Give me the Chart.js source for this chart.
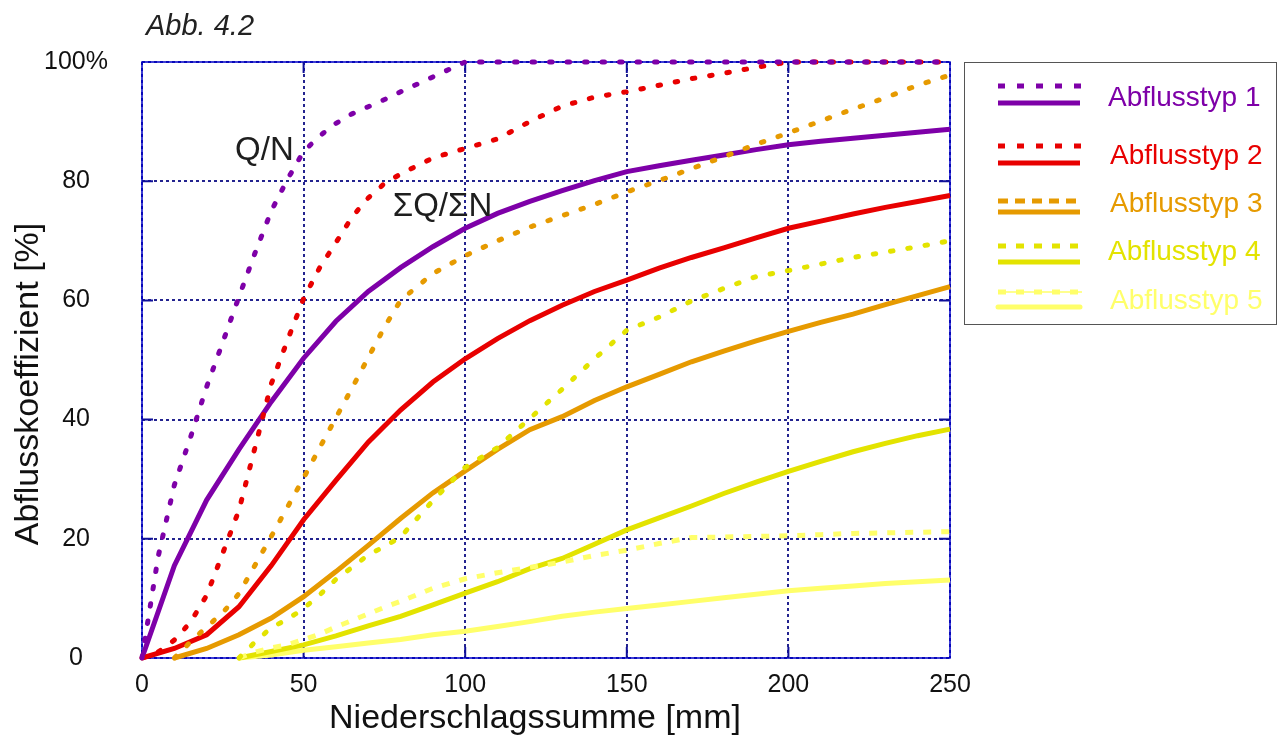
<!DOCTYPE html>
<html lang="de">
<head>
<meta charset="utf-8">
<title>Abb. 4.2 Abflusskoeffizient</title>
<script src="https://cdn.jsdelivr.net/npm/chart.js@4.4.1/dist/chart.umd.min.js"></script>
<style>
  html, body { margin: 0; padding: 0; background: #fff; }
  #wrap { width: 1282px; height: 745px; position: relative; }
</style>
</head>
<body>
<div id="wrap"><canvas id="graph"></canvas></div>
<script>
// Niederschlagssumme [mm] (gemeinsame Stuetzstellen)
const rain = [0, 5, 10, 15, 20, 25, 30, 35, 40, 45, 50, 55, 60, 65, 70, 75,
    80, 90, 100, 110, 120, 130, 140, 150, 160, 170, 180, 190, 200, 210, 220, 230, 240, 250];

// Q/N [%] je Abflusstyp (punktiert)
const qn1 = [0, 17, 29, 37, 45.5, 53, 60.6, 68, 75, 80.3, 85, 87.6, 89.7, 91.3, 92.5, 93.7,
    95, 97.5, 100, 100, 100, 100, 100, 100, 100, 100, 100, 100, 100, 100, 100, 100, 100, 100];
const qn2 = [0, 1, 3, 6, 10.5, 17.6, 24.8, 35.4, 46, 53.3, 60.3, 65.5, 69.7, 74, 77.2, 79.6,
    81.2, 83.9, 85.5, 87.1, 90, 92.6, 94.1, 95, 96.1, 97.2, 98.1, 99.1, 100, 100, 100, 100, 100, 100];
const qn3 = [null, null, 0, 2.7, 5.2, 7.6, 10.8, 15.6, 20.4, 25.3, 30.2, 35.3, 40.3, 45.3, 50.4, 55.5,
    60, 64.5, 67.5, 70, 72.3, 74.2, 76.1, 78.2, 80.1, 82.1, 84.1, 86.2, 88.1, 90.1, 92.1, 94, 96.1, 97.8];
const qn4 = [null, null, null, null, null, null, 0, 2.7, 5.1, 6.5, 8.3, 10.6, 13.2, 15.2, 17.3, 18.7,
    20.3, 26.4, 32, 35.3, 40.2, 45.1, 50.2, 55, 57.2, 59.9, 62, 64, 65, 66.1, 67.2, 68.1, 69, 70];
const qn5 = [null, null, null, null, null, null, 0, 1, 1.7, 2.2, 3.1, 4, 5.2, 6.3, 7.4, 8.5,
    9.5, 11.7, 13.3, 14.3, 15.2, 16.1, 17.2, 18.1, 19.2, 20.2, 20.3, 20.4, 20.5, 20.7, 20.9, 21, 21.1, 21.2];

// Summe Q / Summe N [%] je Abflusstyp (durchgezogen)
const sq1 = [0, null, 15.5, null, 26.5, null, 35, null, 43, null, 50.3, null, 56.5, null, 61.5, null,
    65.5, 69, 72.1, 74.6, 76.6, 78.4, 80.1, 81.6, 82.6, 83.5, 84.4, 85.3, 86.1, 86.7, 87.2, 87.7, 88.2, 88.7];
const sq2 = [0, null, 1.6, null, 3.9, null, 8.6, null, 15.5, null, 23.2, null, 29.8, null, 36.2, null,
    41.6, 46.3, 50.2, 53.6, 56.6, 59.2, 61.5, 63.4, 65.4, 67.2, 68.8, 70.5, 72.1, 73.3, 74.5, 75.6, 76.6, 77.6];
const sq3 = [null, null, 0, null, 1.6, null, 3.9, null, 6.7, null, 10.3, null, 14.5, null, 18.9, null,
    23.4, 27.7, 31.4, 35, 38.3, 40.5, 43.2, 45.5, 47.6, 49.7, 51.5, 53.2, 54.8, 56.3, 57.7, 59.3, 60.8, 62.3];
const sq4 = [null, null, null, null, null, null, 0, null, 1.1, null, 2.2, null, 3.7, null, 5.4, null,
    7, 8.9, 10.9, 12.8, 15, 16.7, 19.1, 21.5, 23.5, 25.5, 27.6, 29.5, 31.3, 33, 34.6, 36, 37.3, 38.4];
const sq5 = [null, null, null, null, null, null, 0, null, 0.5, null, 1.3, null, 1.9, null, 2.5, null,
    3.1, 3.9, 4.5, 5.3, 6.1, 7, 7.7, 8.3, 8.9, 9.5, 10.1, 10.7, 11.3, 11.7, 12.1, 12.5, 12.8, 13.1];

const typeNames = ['Abflusstyp 1', 'Abflusstyp 2', 'Abflusstyp 3', 'Abflusstyp 4', 'Abflusstyp 5'];
const typeColors = ['#7e00a8', '#e80000', '#e69a00', '#e3e300', '#ffff6a'];

const xTicks = [0, 50, 100, 150, 200, 250];
const yTicks = [0, 20, 40, 60, 80, 100];

// Beschriftungen im Diagramm (Datenkoordinaten, linke Grundlinie)
const notes = [
    { text: 'Q/N', x: 28.8, y: 83.6 },
    { text: '\u03a3Q/\u03a3N', x: 77.6, y: 74.1 }
];

const FONT = '"Liberation Sans", Arial, Helvetica, sans-serif';

function toPoints(ys) {
    return rain.map((x, i) => ({ x: x, y: ys[i] })).filter(p => p.y !== null);
}

const qnSeries = [qn1, qn2, qn3, qn4, qn5];
const sqSeries = [sq1, sq2, sq3, sq4, sq5];

const datasets = [];
qnSeries.forEach((ys, i) => {
    const light = i === 4;
    datasets.push({
        label: typeNames[i] + ' Q/N',
        data: toPoints(ys),
        borderColor: typeColors[i],
        borderWidth: 5,
        borderDash: light ? [8, 10] : [2.5, 15],
        borderCapStyle: light ? 'butt' : 'round',
        pointRadius: 0,
        tension: 0,
        clip: false
    });
});
sqSeries.forEach((ys, i) => {
    datasets.push({
        label: typeNames[i] + ' \u03a3Q/\u03a3N',
        data: toPoints(ys),
        borderColor: typeColors[i],
        borderWidth: 5,
        pointRadius: 0,
        tension: 0,
        spanGaps: true,
        clip: false
    });
});

// Rahmen, kurze Striche am Rand, Beschriftungen, Legende
const decorPlugin = {
    id: 'decor',
    beforeDatasetsDraw(chart) {
        const { ctx, chartArea: a, scales } = chart;
        ctx.save();
        ctx.strokeStyle = '#0000c8';
        ctx.lineWidth = 1.5;
        ctx.strokeRect(a.left, a.top, a.right - a.left, a.bottom - a.top);
        ctx.strokeStyle = '#10109a';
        ctx.lineWidth = 2;
        ctx.beginPath();
        yTicks.slice(1, -1).forEach(v => {
            const y = scales.y.getPixelForValue(v);
            ctx.moveTo(a.left, y); ctx.lineTo(a.left + 11, y);
            ctx.moveTo(a.right - 11, y); ctx.lineTo(a.right, y);
        });
        xTicks.slice(1, -1).forEach(v => {
            const x = scales.x.getPixelForValue(v);
            ctx.moveTo(x, a.bottom); ctx.lineTo(x, a.bottom - 11);
            ctx.moveTo(x, a.top); ctx.lineTo(x, a.top + 11);
        });
        ctx.stroke();
        ctx.restore();
    },
    afterDraw(chart) {
        const { ctx, scales } = chart;
        ctx.save();

        // Abbildungsnummer
        ctx.fillStyle = '#222';
        ctx.font = 'italic 29px ' + FONT;
        ctx.textAlign = 'left';
        ctx.textBaseline = 'alphabetic';
        ctx.fillText('Abb. 4.2', 146, 35);

        // Achsentitel
        ctx.fillStyle = '#111';
        ctx.font = '34px ' + FONT;
        ctx.textAlign = 'center';
        ctx.textBaseline = 'middle';
        ctx.fillText('Niederschlagssumme [mm]', 535, 719);
        ctx.save();
        ctx.translate(29, 384);
        ctx.rotate(-Math.PI / 2);
        ctx.fillText('Abflusskoeffizient [%]', 0, 0);
        ctx.restore();

        // Q/N und SQ/SN
        ctx.fillStyle = '#1e1e1e';
        ctx.font = '33px ' + FONT;
        ctx.textAlign = 'left';
        ctx.textBaseline = 'alphabetic';
        notes.forEach(n => {
            ctx.fillText(n.text, scales.x.getPixelForValue(n.x), scales.y.getPixelForValue(n.y));
        });

        // Legende
        ctx.strokeStyle = '#555';
        ctx.lineWidth = 1;
        ctx.strokeRect(964.5, 62.5, 312, 262);
        const dotY = [86, 146, 201, 246, 292];
        const solidY = [103, 163, 212, 262, 307];
        const textY = [106, 164, 212, 260, 309];
        const dashes = [[7, 12], [7, 12], [10, 7], [8, 10], [8, 10]];
        typeNames.forEach((name, i) => {
            ctx.strokeStyle = typeColors[i];
            ctx.lineCap = 'butt';
            ctx.lineWidth = 5;
            ctx.setLineDash(dashes[i]);
            ctx.beginPath();
            ctx.moveTo(998, dotY[i]); ctx.lineTo(1082, dotY[i]);
            ctx.stroke();
            if (i === 4) {
                ctx.setLineDash([]);
                ctx.lineWidth = 1.5;
                ctx.beginPath();
                ctx.moveTo(998, dotY[i]); ctx.lineTo(1082, dotY[i]);
                ctx.stroke();
            }
            ctx.setLineDash([]);
            ctx.lineWidth = 5;
            if (i === 4) ctx.lineCap = 'round';
            ctx.beginPath();
            ctx.moveTo(998, solidY[i]); ctx.lineTo(1080, solidY[i]);
            ctx.stroke();
            ctx.fillStyle = typeColors[i];
            ctx.font = '28px ' + FONT;
            ctx.fillText(name, i === 0 || i === 3 ? 1108 : 1110, textY[i]);
        });
        ctx.restore();
    }
};

const gridColor = '#23238f';

new Chart(document.getElementById('graph').getContext('2d'), {
    type: 'line',
    data: { datasets: datasets },
    options: {
        responsive: true,
        maintainAspectRatio: false,
        animation: false,
        layout: { padding: { left: 0, top: 62, right: 332, bottom: 0 } },
        scales: {
            x: {
                type: 'linear',
                min: 0,
                max: 250,
                afterBuildTicks: (s) => { s.ticks = xTicks.map(v => ({ value: v })); },
                afterFit: (s) => { s.height = 87; },
                ticks: {
                    padding: 12,
                    color: '#111',
                    font: { family: FONT, size: 25 }
                },
                grid: {
                    color: gridColor,
                    lineWidth: 2,
                    drawTicks: false
                },
                border: { display: false, dash: [3, 3] }
            },
            y: {
                type: 'linear',
                min: 0,
                max: 100,
                afterBuildTicks: (s) => { s.ticks = yTicks.map(v => ({ value: v })); },
                afterFit: (s) => { s.width = 142; },
                ticks: {
                    padding: 34,
                    crossAlign: 'center',
                    color: '#111',
                    font: { family: FONT, size: 25 },
                    callback: (v) => v === 100 ? '100%' : String(v)
                },
                grid: {
                    color: gridColor,
                    lineWidth: 2,
                    drawTicks: false
                },
                border: { display: false, dash: [3, 3] }
            }
        },
        plugins: {
            legend: { display: false },
            tooltip: { enabled: false }
        }
    },
    plugins: [decorPlugin]
});
</script>
</body>
</html>
